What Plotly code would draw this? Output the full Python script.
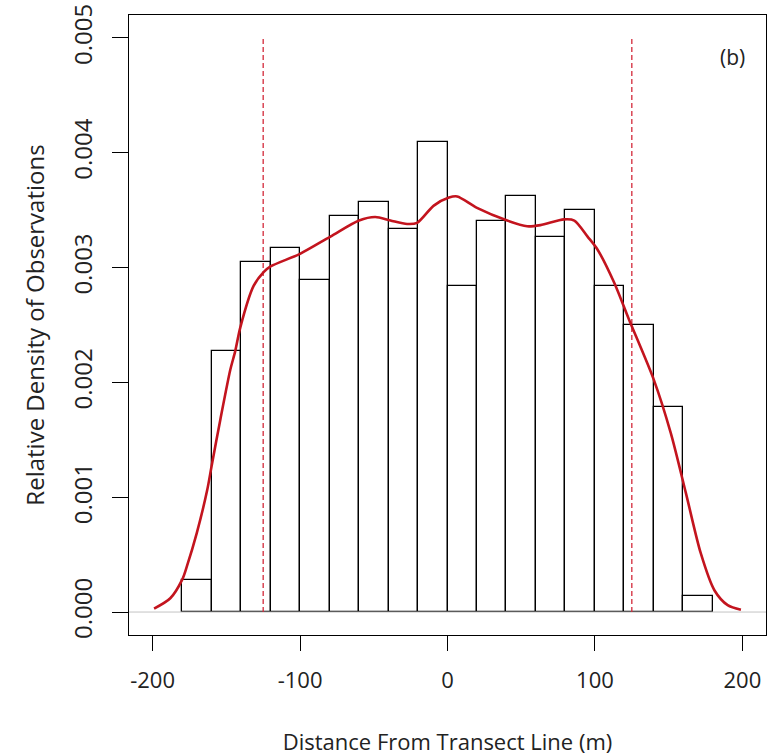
import plotly.graph_objects as go

# Histogram: bin left edges (width 20 m) and relative density heights
bin_left = [-180, -160, -140, -120, -100, -80, -60, -40, -20,
            0, 20, 40, 60, 80, 100, 120, 140, 160]
bin_width = 20
bin_density = [0.00028, 0.00227, 0.00305, 0.00317, 0.00289, 0.00345,
               0.00357, 0.00334, 0.00409, 0.00284, 0.00341, 0.00362,
               0.00327, 0.00350, 0.00284, 0.00250, 0.00179, 0.000137]

# Kernel density curve
kde_x = [-199, -188, -180, -176.7, -170, -163, -160, -154, -147.3, -144,
         -140.5, -131.5, -124.7, -120, -100, -79.4, -60, -49, -38.7,
         -27.4, -20.6, -9.3, 1, 6.6, 20, 40.5, 54, 63, 79, 86, 95,
         101.6, 113, 123, 140, 151.4, 161.6, 171.8, 181, 190, 199]
kde_y = [0.00003, 0.00012, 0.00028, 0.00040, 0.00069, 0.00106, 0.00127,
         0.00168, 0.00211, 0.00227, 0.00248, 0.00284, 0.00296, 0.00301,
         0.00312, 0.00327, 0.00341, 0.00344, 0.00341, 0.00338, 0.00339,
         0.00354, 0.00361, 0.00362, 0.00352, 0.00341, 0.00336, 0.00337,
         0.00342, 0.00341, 0.00327, 0.00316, 0.00287, 0.00255, 0.00202,
         0.00156, 0.00104, 0.00051, 0.00019, 0.00006, 0.00002]

# Truncation distances (dashed lines)
cutoffs = [-125, 125]
cutoff_top = 0.005

x_ticks = [-200, -100, 0, 100, 200]
y_ticks = [0.000, 0.001, 0.002, 0.003, 0.004, 0.005]
x_range = [-216, 216]
y_range = [-0.0002, 0.0052]

x_title = "Distance From Transect Line (m)"
y_title = "Relative Density of Observations"
panel_label = "(b)"

fig = go.Figure()

# grey baseline at zero
fig.add_trace(go.Scatter(x=x_range, y=[0, 0], mode="lines",
                         line=dict(color="#c4c4c4", width=1),
                         hoverinfo="skip", showlegend=False))

centers = [l + bin_width / 2 for l in bin_left]
fig.add_trace(go.Bar(x=centers, y=bin_density, width=bin_width,
                     marker=dict(color="white",
                                 line=dict(color="black", width=1.3)),
                     showlegend=False))

for c in cutoffs:
    fig.add_trace(go.Scatter(x=[c, c], y=[0, cutoff_top], mode="lines",
                             line=dict(color="#d3293a", width=1.3,
                                       dash="5px,3px"),
                             hoverinfo="skip", showlegend=False))

fig.add_trace(go.Scatter(x=kde_x, y=kde_y, mode="lines",
                         line=dict(color="#c3141e", width=2.6,
                                   shape="spline", smoothing=0.8),
                         showlegend=False))

fig.add_annotation(x=728.5 / 769, y=1 - 51 / 756, xref="paper", yref="paper",
                   text=panel_label, showarrow=False,
                   font=dict(family="Open Sans", size=21, color="#222"),
                   xanchor="center", yanchor="middle")

font = "Open Sans, sans-serif"

fig.update_layout(
    width=769, height=756,
    margin=dict(l=129, r=3, t=15, b=121),
    paper_bgcolor="white", plot_bgcolor="white",
    bargap=0,
    xaxis=dict(range=x_range, tickvals=x_ticks,
               ticktext=[str(v) for v in x_ticks],
               showgrid=False, zeroline=False,
               showline=True, mirror=True, linecolor="black", linewidth=1.3,
               ticks="outside", ticklen=15, tickwidth=1.2, tickcolor="black",
               tickfont=dict(family=font, size=22, color="#222"),
               ticklabelstandoff=10,
               title=dict(text=x_title, standoff=42,
                          font=dict(family=font, size=22, color="#222"))),
    yaxis=dict(range=y_range, tickvals=y_ticks,
               ticktext=["%.3f" % v for v in y_ticks],
               tickangle=-90,
               showgrid=False, zeroline=False,
               showline=True, mirror=True, linecolor="black", linewidth=1.3,
               ticks="outside", ticklen=16, tickwidth=1.2, tickcolor="black",
               tickfont=dict(family=font, size=24, color="#222"),
               ticklabelstandoff=10,
               title=dict(text=y_title, standoff=14,
                          font=dict(family=font, size=24, color="#222"))),
)

fig.write_html("out.html")
